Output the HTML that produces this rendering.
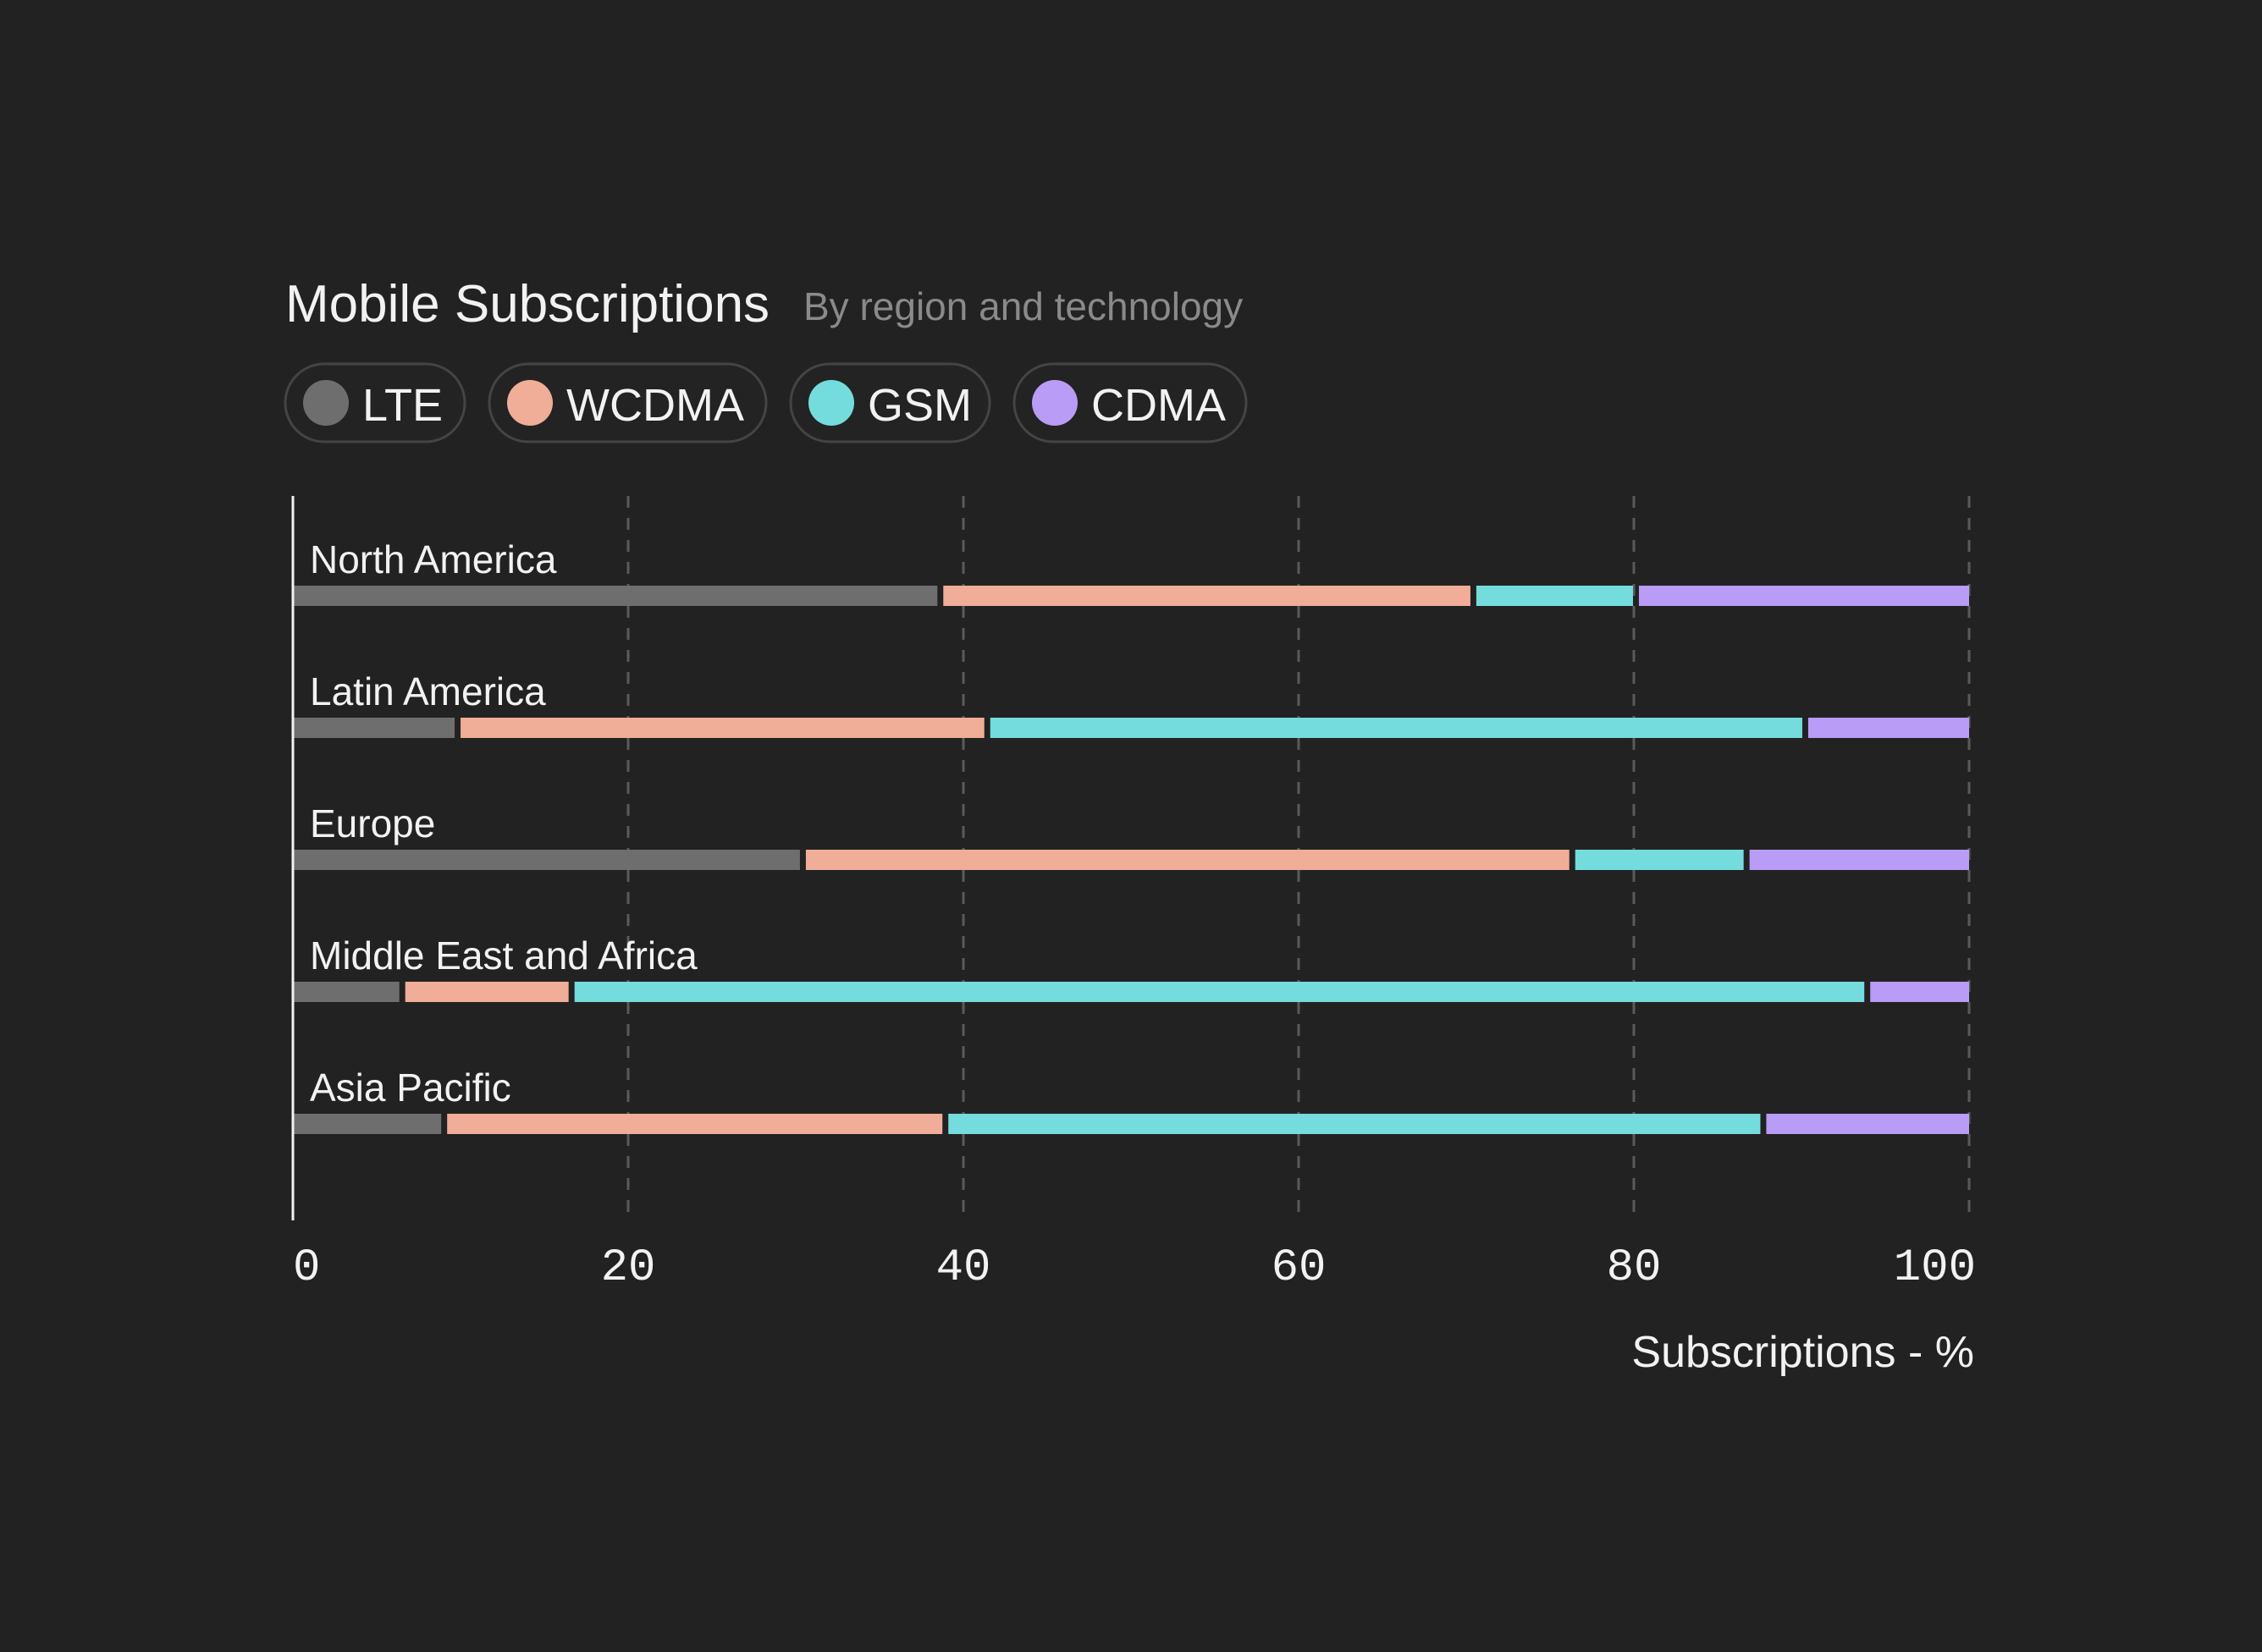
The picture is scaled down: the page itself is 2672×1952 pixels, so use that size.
<!DOCTYPE html>
<html><head><meta charset="utf-8"><style>
html,body{margin:0;padding:0;background:#222222;}
svg{display:block}
text{font-family:"Liberation Sans",sans-serif;}
text.mono{font-family:"Liberation Mono",monospace;}
</style></head><body>
<svg id="chart" width="2672" height="1952" viewBox="0 0 2672 1952" xmlns="http://www.w3.org/2000/svg">
<rect width="2672" height="1952" fill="#222222"/>
<text x="337" y="380" font-size="62" fill="#f2f2f2">Mobile Subscriptions</text>
<text x="949" y="378" font-size="46" fill="#8a8a8a">By region and technology</text>
<g id="legend"></g>
<g id="grid"></g>
<g id="bars"></g>
<line x1="346" y1="586" x2="346" y2="1442" stroke="#f2f2f2" stroke-width="3"/>
<g id="ticks"></g>
<text x="2332" y="1615" font-size="52" fill="#f2f2f2" text-anchor="end">Subscriptions - %</text>
</svg>
<script>
const categories = ["North America","Latin America","Europe","Middle East and Africa","Asia Pacific"];
const seriesNames = ["LTE","WCDMA","GSM","CDMA"];
const lte   = [38.6, 9.8, 30.4, 6.5, 9.0];
const wcdma = [31.8, 31.6, 45.9, 10.1, 29.9];
const gsm   = [9.7, 48.8, 10.4, 77.3, 48.8];
const cdma  = [19.9, 9.8, 13.3, 6.1, 12.3];
const tickValues = [0,20,40,60,80,100];
const tickLabels = ["0","20","40","60","80","100"];

const colors = ["#6e6e6e","#f0ad98","#74dcdc","#b89cf5"];
const series = [lte,wcdma,gsm,cdma];
const NS = "http://www.w3.org/2000/svg";
const x0 = 346, x1 = 2326;
const xScale = v => x0 + (x1 - x0) * v / 100;
const rowTop = i => 692 + i * 156;
function mk(tag, attrs, parent){const e=document.createElementNS(NS,tag);for(const k in attrs)e.setAttribute(k,attrs[k]);parent.appendChild(e);return e;}

// legend
const legend = document.getElementById('legend');
const pillX = [337,578,934,1198], pillW = [212,327,235,274];
seriesNames.forEach((n,i)=>{
  const g = mk('g',{},legend);
  
  
  const r = mk('rect',{x:pillX[i],y:430,width:pillW[i],height:92,rx:46,fill:'#232323',stroke:'#444',"stroke-width":3},g);
  
  
  const c = mk('circle',{cx:pillX[i]+48,cy:476,r:27,fill:colors[i]},g);
  
  
  const t = mk('text',{x:pillX[i]+91,y:497,"font-size":54,fill:'#f2f2f2'},g);
  t.textContent = n;
  
  
});

// grid + ticks
const grid = document.getElementById('grid'), ticks = document.getElementById('ticks');
tickValues.forEach((v,i)=>{
  const x = xScale(v);
  if(v>0){
    const l = mk('line',{x1:x,y1:586,x2:x,y2:1442,stroke:'#5a5a5a',"stroke-width":3,"stroke-dasharray":"14 12"},grid);
    
    
  }
  const anchor = i===0?'start':(i===tickValues.length-1?'end':'middle');
  const t = mk('text',{x:i===0?x:(i===tickValues.length-1?x+8:x),y:1512,"font-size":54,fill:'#f2f2f2',"text-anchor":anchor,"class":"mono"},ticks);
  t.textContent = tickLabels[i];
  
  
});

// bars
const bars = document.getElementById('bars');
categories.forEach((cat,i)=>{
  const y = rowTop(i);
  const lab = mk('text',{x:366,y:y-15,"font-size":46,fill:'#f2f2f2'},bars);
  lab.textContent = cat;
  
  
  let acc = 0;
  series.forEach((s,j)=>{
    const start = xScale(acc) + (j>0?4:0);
    acc += s[i];
    const end = xScale(acc) - (j<series.length-1?3:0);
    const r = mk('rect',{x:start,y:y,width:Math.max(0,end-start),height:24,fill:colors[j]},bars);
    
    
  });
});
</script>
</body></html>
